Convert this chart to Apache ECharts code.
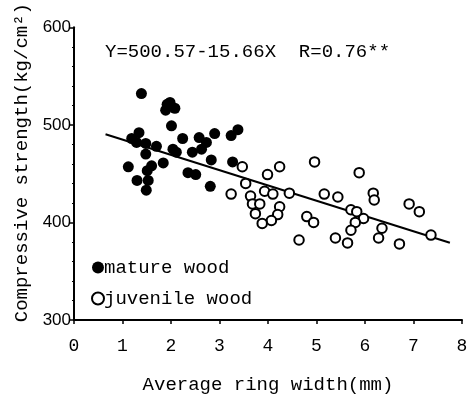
<!DOCTYPE html>
<html>
<head>
<meta charset="utf-8">
<script src="https://cdn.jsdelivr.net/npm/echarts@6/dist/echarts.min.js"></script>
<style>html,body{margin:0;padding:0;background:#fff}#c{width:476px;height:400px}</style>
</head>
<body>
<div id="c"></div>
<script>
const xTicks = [0,1,2,3,4,5,6,7,8];
const yTicks = [300,400,500,600];
const matureWood = [
  [1.39,532],[1.92,521],[1.98,523],[2.08,517],[1.89,515],[2.01,499],[1.34,492],
  [1.19,486],[1.29,482],[1.48,481],[1.70,478],[1.48,470],[1.12,457],[1.60,458],
  [1.51,453],[1.30,443],[1.53,443],[1.49,433],[1.84,461],[2.04,475],[2.11,472],
  [2.24,486],[2.44,472],[2.58,487],[2.63,475],[2.73,482],[2.90,491],[2.83,464],
  [2.35,451],[2.51,449],[2.81,437],[3.38,495],[3.24,489],[3.27,462]
];
const juvenileWood = [
  [3.47,457],[4.24,457],[4.96,462],[3.99,449],[5.88,451],[3.54,440],[3.24,429],
  [3.64,427],[3.93,432],[4.10,429],[4.44,430],[3.68,419],[3.83,419],[4.24,416],
  [3.74,409],[4.20,408],[4.07,402],[3.88,399],[4.80,406],[4.94,400],[4.64,382],
  [5.16,429],[5.44,426],[6.17,430],[6.19,423],[5.71,413],[5.83,411],[5.97,404],
  [5.80,400],[5.71,392],[5.39,384],[5.64,379],[6.35,394],[6.28,384],[6.71,378],
  [6.91,419],[7.12,411],[7.36,387]
];
const regressionLine = [[0.65,490.4],[7.75,379.2]];
const equationText = 'Y=500.57-15.66X  R=0.76**';
const xTitle = 'Average ring width(mm)';
const yTitle = 'Compressive strength(kg/cm²)';

const mono = '"Liberation Mono", "DejaVu Sans Mono", monospace';
const chart = echarts.init(document.getElementById('c'), null, {renderer:'canvas'});
chart.setOption({
  animation: false,
  backgroundColor: '#fff',
  title: {
    text: equationText, left: 100, top: 37,
    textStyle: {fontFamily: mono, fontSize: 19, fontWeight: 'normal', color: '#000'}
  },
  legend: {
    orient: 'vertical', left: 86, top: 253, itemGap: 12,
    itemWidth: 12, itemHeight: 12,
    textStyle: {fontFamily: mono, fontSize: 19, color: '#000', padding: [0,0,0,-5]},
    data: [
      {name: 'mature wood', icon: 'circle'},
      {name: 'juvenile wood', icon: 'circle'}
    ]
  },
  grid: {left: 74, right: 14, top: 24, bottom: 80, containLabel: false},
  xAxis: {
    type: 'value', min: xTicks[0], max: xTicks[xTicks.length-1], interval: 1,
    name: xTitle, nameLocation: 'middle', nameGap: 55,
    nameTextStyle: {fontFamily: mono, fontSize: 19, color: '#000'},
    axisLine: {lineStyle: {color: '#000', width: 2}},
    axisTick: {lineStyle: {color: '#000', width: 1.5}, length: 4},
    axisLabel: {fontFamily: mono, fontSize: 18, color: '#000', margin: 17},
    splitLine: {show: false}
  },
  yAxis: {
    type: 'value', min: yTicks[0], max: yTicks[yTicks.length-1], interval: 100,
    name: yTitle, nameLocation: 'middle', nameGap: 43,
    nameTextStyle: {fontFamily: mono, fontSize: 19, color: '#000', padding: [0,0,0,22]},
    axisLine: {show: true, lineStyle: {color: '#000', width: 2}},
    axisTick: {show: true, lineStyle: {color: '#000', width: 1.5}, length: 4},
    minorTick: {show: true, splitNumber: 5, length: 2, lineStyle: {color: '#000'}},
    axisLabel: {fontFamily: '"Liberation Sans", Arimo, sans-serif', fontSize: 17, color: '#000', margin: 3},
    splitLine: {show: false}
  },
  series: [
    {
      name: 'mature wood', type: 'scatter', data: matureWood,
      symbol: 'circle', symbolSize: 11,
      itemStyle: {color: '#000', opacity: 1}, z: 3
    },
    {
      name: 'juvenile wood', type: 'scatter', data: juvenileWood,
      symbol: 'circle', symbolSize: 9.5,
      itemStyle: {color: '#fff', borderColor: '#000', borderWidth: 2, opacity: 1}, z: 3
    },
    {
      name: 'fit', type: 'line', data: regressionLine, symbol: 'none',
      lineStyle: {color: '#000', width: 2}, z: 2, silent: true
    }
  ]
});
</script>
</body>
</html>
